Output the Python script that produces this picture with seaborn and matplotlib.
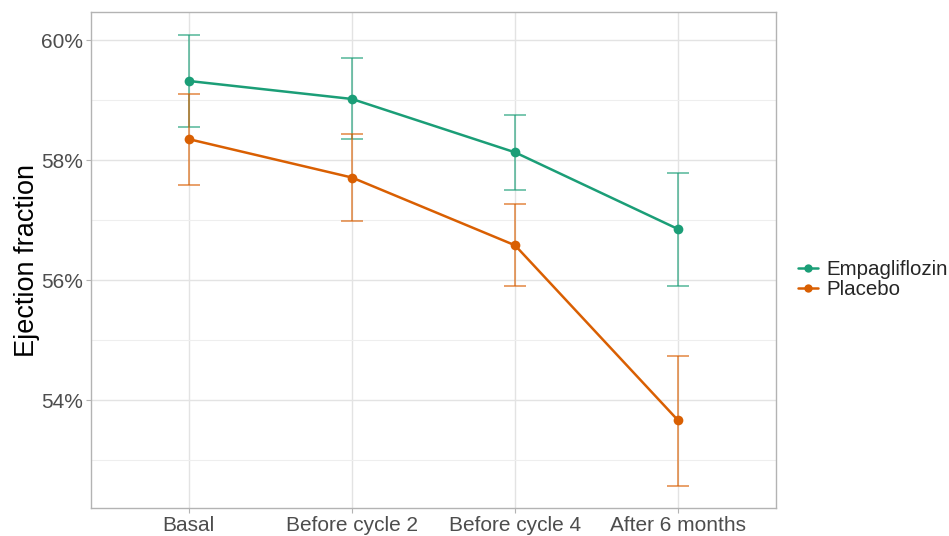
import matplotlib
matplotlib.use("Agg")
import matplotlib.pyplot as plt
import seaborn as sns
import pandas as pd
from matplotlib.ticker import FuncFormatter, MultipleLocator

# Mean ejection fraction (%) and 95% CI bounds per visit
visits = ["Basal", "Before cycle 2", "Before cycle 4", "After 6 months"]
groups = ["Empagliflozin", "Placebo"]
empa_mean = [59.32, 59.02, 58.13, 56.85]
empa_low = [58.55, 58.36, 57.51, 55.90]
empa_high = [60.08, 59.70, 58.76, 57.79]
plac_mean = [58.35, 57.71, 56.58, 53.66]
plac_low = [57.58, 56.98, 55.90, 52.56]
plac_high = [59.10, 58.44, 57.27, 54.73]

colors = {"Empagliflozin": "#1B9E77", "Placebo": "#D95F02"}

df = pd.DataFrame({
    "visit": visits * 2,
    "group": [groups[0]] * 4 + [groups[1]] * 4,
    "ef": empa_mean + plac_mean,
    "low": empa_low + plac_low,
    "high": empa_high + plac_high,
})

sns.set_theme(style="whitegrid")
plt.rcParams["font.family"] = ["Liberation Sans", "DejaVu Sans"]

fig = plt.figure(figsize=(9.49, 5.36), dpi=100)
ax = fig.add_axes([0.0959, 0.0522, 0.7218, 0.9254])

pos = {v: i for i, v in enumerate(visits)}
df["x"] = df["visit"].map(pos)

# confidence intervals
for g in groups:
    sub = df[df["group"] == g]
    ax.errorbar(sub["x"], sub["ef"],
                yerr=[sub["ef"] - sub["low"], sub["high"] - sub["ef"]],
                fmt="none", ecolor=colors[g], alpha=0.75, elinewidth=1.1,
                capsize=8, capthick=1.1, zorder=2)

sns.lineplot(data=df, x="x", y="ef", hue="group", hue_order=groups,
             palette=colors, marker="o", markersize=7, markeredgewidth=0,
             linewidth=1.8, ax=ax, zorder=3)

ax.set_xlim(-0.6, 3.6)
ax.set_ylim(52.2, 60.47)
ax.set_xticks(range(len(visits)))
ax.set_xticklabels(visits)
ax.yaxis.set_major_locator(MultipleLocator(2))
ax.yaxis.set_minor_locator(MultipleLocator(1))
ax.yaxis.set_major_formatter(FuncFormatter(lambda v, _: f"{v:.0f}%"))

ax.grid(True, which="major", color="#E3E3E3", linewidth=1.0)
ax.grid(True, which="minor", axis="y", color="#EEEEEE", linewidth=0.8)
ax.set_axisbelow(True)
for s in ax.spines.values():
    s.set_color("#B3B3B3")
    s.set_linewidth(1.0)

ax.tick_params(axis="both", which="major", labelsize=15, labelcolor="#4D4D4D",
               length=3.5, color="#B3B3B3", width=0.8, pad=2, left=True, bottom=True)
ax.tick_params(axis="y", which="minor", length=0)
ax.set_xlabel("")
ax.set_ylabel("Ejection fraction", fontsize=19.5, color="black")
ax.yaxis.set_label_coords(-0.074, 0.5)

leg = ax.legend(loc="center left", bbox_to_anchor=(1.005, 0.46), frameon=False,
                fontsize=14.8, title=None, handlelength=1.0, handletextpad=0.4,
                labelspacing=0.05)
for h in leg.legend_handles:
    h.set_markersize(6)

fig.savefig("out.png", dpi=100, facecolor="white")
